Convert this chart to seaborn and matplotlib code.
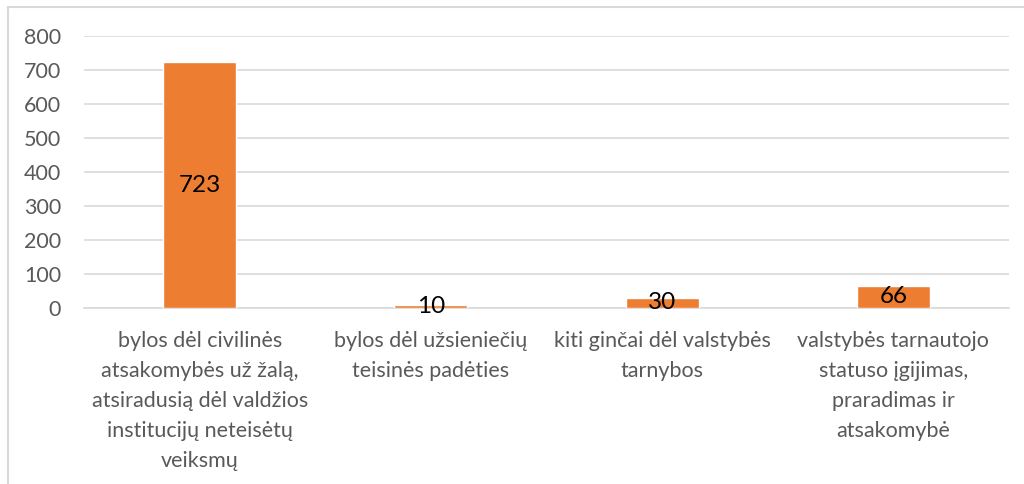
import matplotlib
matplotlib.use("Agg")
import matplotlib.pyplot as plt
import seaborn as sns
import pandas as pd
from matplotlib.patches import Rectangle

categories = [
    "bylos dėl civilinės\natsakomybės už žalą,\natsiradusią dėl valdžios\ninstitucijų neteisėtų\nveiksmų",
    "bylos dėl užsieniečių\nteisinės padėties",
    "kiti ginčai dėl valstybės\ntarnybos",
    "valstybės tarnautojo\nstatuso įgijimas,\npraradimas ir\natsakomybė",
]
values = [723, 10, 30, 66]
yticks = [0, 100, 200, 300, 400, 500, 600, 700, 800]

sns.set_theme(style="white")
plt.rcParams["font.family"] = ["Lato", "DejaVu Sans"]

df = pd.DataFrame({"cat": categories, "val": values})

fig = plt.figure(figsize=(10.24, 4.84), dpi=100)
ax = fig.add_axes([84 / 1024, 176 / 484, (1009 - 84) / 1024, 272 / 484])

sns.barplot(data=df, x="cat", y="val", color="#ED7D31", saturation=1,
            width=0.316, ax=ax, zorder=3)

ax.set_ylim(0, 800)
ax.set_yticks(yticks)
ax.set_xlim(-0.5, 3.5)
ax.yaxis.grid(True, color="#D9D9D9", lw=1.2, zorder=0)
ax.xaxis.grid(False)
for s in ["top", "right", "left"]:
    ax.spines[s].set_visible(False)
ax.spines["bottom"].set_color("#D9D9D9")
ax.spines["bottom"].set_linewidth(1.2)
ax.set_xlabel("")
ax.set_ylabel("")
ax.tick_params(axis="both", length=0, colors="#595959", labelsize=15.5)
ax.tick_params(axis="y", pad=16.5)
ax.tick_params(axis="x", pad=16.5)
for t in ax.get_xticklabels():
    t.set_linespacing(1.62)

for c in ax.containers:
    ax.bar_label(c, labels=[str(v) for v in values], label_type="center",
                 fontsize=17.5, color="black")

fig.add_artist(Rectangle((7.5 / 1024, -0.1), 1.2, (484 - 7.5) / 484 + 0.1,
                         transform=fig.transFigure, fill=False,
                         edgecolor="#D9D9D9", lw=1.5))

fig.savefig("out.png", dpi=100, facecolor="white")
